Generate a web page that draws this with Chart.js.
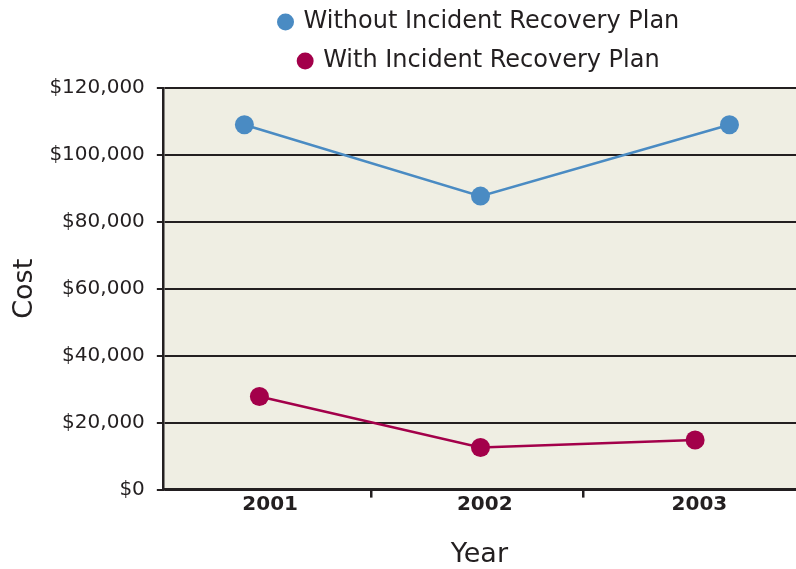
<!DOCTYPE html>
<html>
<head>
<meta charset="utf-8">
<script src="https://cdn.jsdelivr.net/npm/chart.js@4.4.1/dist/chart.umd.min.js"></script>
<style>
    html, body { margin: 0; padding: 0; background: #ffffff; }
    #wrap { width: 796px; height: 569px; }
</style>
</head>
<body>
<div id="wrap"><canvas id="cost-chart"></canvas></div>
<script>
const seriesNames = ['Without Incident Recovery Plan', 'With Incident Recovery Plan'];
const yearLabels = [2001, 2002, 2003];
// the markers are not centred on their year, so each point keeps its own position on the year axis
const withoutYears = [2000.88, 2001.98, 2003.14];
const withYears = [2000.95, 2001.98, 2002.98];
const withoutCost = [109000, 87700, 109000];
const withCost = [27800, 12600, 14800];
const costTicks = [0, 20000, 40000, 60000, 80000, 100000, 120000];
// small separator marks under the axis between the years
const yearDividers = [2001.47, 2002.46];

const ink = '#231f20';
const blue = '#4a8bc3';
const red = '#a3004a';
const font = 'DejaVu Sans';

const toPoints = (xs, ys) => xs.map((x, i) => ({ x: x, y: ys[i] }));

const plotBackground = {
    id: 'plotBackground',
    beforeDraw(chart) {
        const { ctx, chartArea: a } = chart;
        ctx.save();
        ctx.fillStyle = '#efeee3';
        ctx.fillRect(a.left, a.top, a.right - a.left, a.bottom - a.top);
        ctx.restore();
    }
};

// centre the legend over the plot rather than over the whole canvas, and lift it a little
const legendOverPlot = {
    id: 'legendOverPlot',
    afterLayout(chart) {
        const legend = chart.legend;
        legend.left = chart.chartArea.left;
        legend.right = chart.chartArea.right;
        legend.top -= 5;
        legend.bottom -= 5;
    }
};

document.addEventListener('DOMContentLoaded', function () {
    const ctx = document.getElementById('cost-chart').getContext('2d');

    new Chart(ctx, {
        type: 'line',
        data: {
            datasets: [
                {
                    label: seriesNames[0],
                    data: toPoints(withoutYears, withoutCost),
                    borderColor: blue,
                    backgroundColor: blue,
                    borderWidth: 2.5,
                    pointRadius: 9.5,
                    pointBorderWidth: 0,
                    pointStyle: 'circle',
                    tension: 0
                },
                {
                    label: seriesNames[1],
                    data: toPoints(withYears, withCost),
                    borderColor: red,
                    backgroundColor: red,
                    borderWidth: 2.5,
                    pointRadius: 9.5,
                    pointBorderWidth: 0,
                    pointStyle: 'circle',
                    tension: 0
                }
            ]
        },
        options: {
            responsive: true,
            maintainAspectRatio: false,
            animation: false,
            layout: {
                autoPadding: false,
                padding: { top: 0, left: 5, right: 0, bottom: -2 }
            },
            scales: {
                x: {
                    type: 'linear',
                    min: 2000.5,
                    max: 2003.45,
                    afterBuildTicks: function (axis) {
                        axis.ticks = yearLabels.concat(yearDividers)
                            .sort((a, b) => a - b)
                            .map(v => ({ value: v }));
                    },
                    border: { display: true, color: ink, width: 2.5 },
                    grid: {
                        drawOnChartArea: false,
                        drawTicks: true,
                        tickLength: 8,
                        lineWidth: 2.5,
                        tickColor: function (c) {
                            return yearDividers.includes(c.tick.value) ? ink : 'rgba(0,0,0,0)';
                        }
                    },
                    ticks: {
                        autoSkip: false,
                        maxRotation: 0,
                        padding: -5,
                        color: ink,
                        font: { family: font, size: 20, weight: 'bold' },
                        callback: function (value) {
                            return yearLabels.includes(value) ? String(value) : '';
                        }
                    },
                    title: {
                        display: true,
                        text: 'Year',
                        color: ink,
                        font: { family: font, size: 27, weight: 'normal' },
                        padding: { top: 27, bottom: 0 }
                    }
                },
                y: {
                    min: 0,
                    max: 120000,
                    afterBuildTicks: function (axis) {
                        axis.ticks = costTicks.map(v => ({ value: v }));
                    },
                    border: { display: true, color: ink, width: 2.5 },
                    grid: {
                        color: ink,
                        lineWidth: 2,
                        tickLength: 6,
                        tickColor: ink
                    },
                    ticks: {
                        padding: 12,
                        color: ink,
                        font: { family: font, size: 20, weight: 'normal' },
                        callback: function (value) {
                            return '$' + value.toLocaleString('en-US');
                        }
                    },
                    title: {
                        display: true,
                        text: 'Cost',
                        color: ink,
                        font: { family: font, size: 27, weight: 'normal' },
                        padding: { top: 4, bottom: -4 }
                    }
                }
            },
            plugins: {
                legend: {
                    display: true,
                    position: 'top',
                    align: 'center',
                    labels: {
                        usePointStyle: true,
                        boxWidth: 12,
                        boxHeight: 12,
                        padding: 15,
                        color: ink,
                        font: { family: font, size: 24, weight: 'normal' }
                    }
                },
                tooltip: { enabled: false }
            }
        },
        plugins: [plotBackground, legendOverPlot]
    });
});
</script>
</body>
</html>
